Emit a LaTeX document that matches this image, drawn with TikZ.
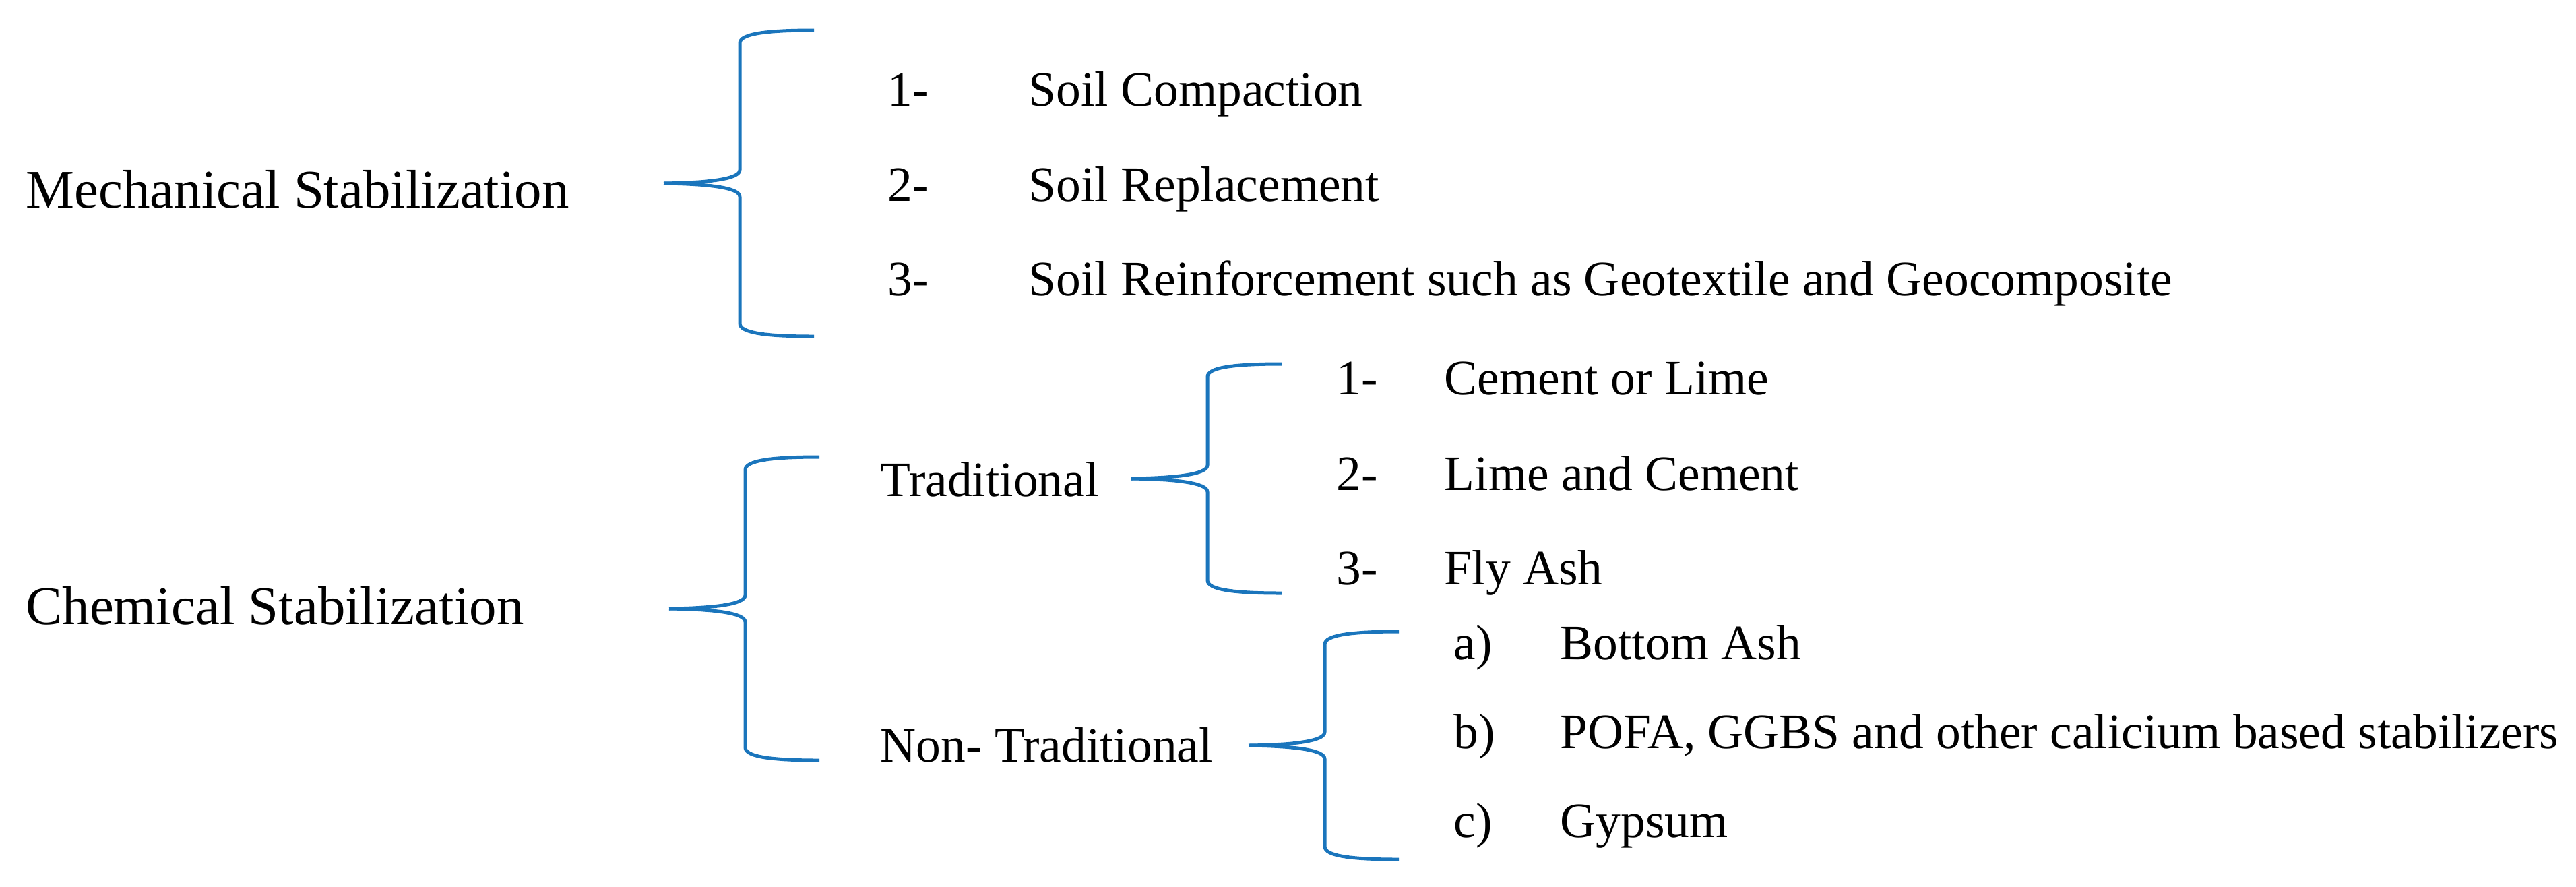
\documentclass[tikz,border=0pt]{standalone}
\usepackage{fontspec}
\setmainfont{Liberation Serif}
\definecolor{braceblue}{HTML}{1A75BC}

% curly brace opening to the right: #1 = tip, #2 = half height
\newcommand{\groupbrace}[2]{%
  \draw[sbrace] (#1) .. controls +(0.65,-0.01) and +(0,0.14) .. ++(1.13,-0.2)
    -- ++(0,0.39-#2) .. controls +(0,-0.14) and +(-0.7,0) .. ++(1.1,-0.19);
  \draw[sbrace] (#1) .. controls +(0.65,0.01) and +(0,-0.14) .. ++(1.13,0.2)
    -- ++(0,#2-0.39) .. controls +(0,0.14) and +(-0.7,0) .. ++(1.1,0.19);
}

\begin{document}
\begin{tikzpicture}[x=1cm, y=-1cm,
  sbrace/.style={braceblue, line width=0.05cm, line join=round},
  head/.style={anchor=base west, inner sep=0pt, font=\fontsize{23}{28}\selectfont},
  item/.style={anchor=base west, inner sep=0pt, font=\fontsize{20.9}{25}\selectfont}]
\useasboundingbox (0,0) rectangle (38.23,13.15);

% mechanical
\node[head] (mech) at (0.38,3.08) {Mechanical Stabilization};
\coordinate (mtip) at (9.85,2.72);
\groupbrace{mtip}{2.27}
\node[item] (mn1) at (13.17,1.57) {1-};
\node[item] (mn2) at (13.17,2.98) {2-};
\node[item] (mn3) at (13.17,4.38) {3-};
\node[item] (m1) at (15.26,1.57) {Soil Compaction};
\node[item] (m2) at (15.26,2.98) {Soil Replacement};
\node[item] (m3) at (15.26,4.38) {Soil Reinforcement such as Geotextile and Geocomposite};

% chemical
\node[head] (chem) at (0.38,9.26) {Chemical Stabilization};
\coordinate (ctip) at (9.93,9.03);
\groupbrace{ctip}{2.25}
\node[item] (trad) at (13.06,7.36) {Traditional};
\node[item] (nontrad) at (13.06,11.30) {Non- Traditional};

% traditional
\coordinate (ttip) at (16.79,7.10);
\groupbrace{ttip}{1.70}
\node[item] (tn1) at (19.83,5.85) {1-};
\node[item] (tn2) at (19.83,7.27) {2-};
\node[item] (tn3) at (19.83,8.67) {3-};
\node[item] (t1) at (21.43,5.85) {Cement or Lime};
\node[item] (t2) at (21.43,7.27) {Lime and Cement};
\node[item] (t3) at (21.43,8.67) {Fly Ash};

% non-traditional
\coordinate (ntip) at (18.53,11.06);
\groupbrace{ntip}{1.69}
\node[item] (na) at (21.57,9.78) {a)};
\node[item] (nb) at (21.57,11.10) {b)};
\node[item] (nc) at (21.57,12.42) {c)};
\node[item] (n1) at (23.15,9.78) {Bottom Ash};
\node[item] (n2) at (23.15,11.10) {POFA, GGBS and other calicium based stabilizers};
\node[item] (n3) at (23.15,12.42) {Gypsum};
\end{tikzpicture}
\end{document}
